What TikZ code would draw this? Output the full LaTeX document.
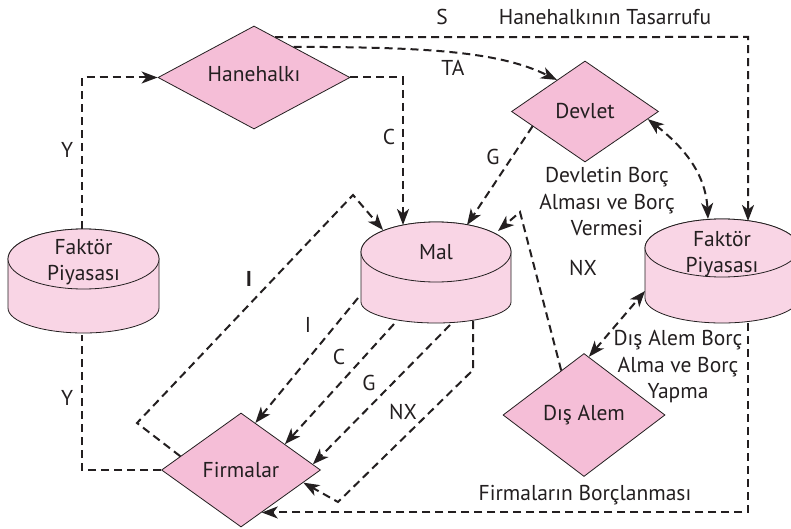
\documentclass[tikz,border=0pt]{standalone}
\usepackage{fontspec}
\setmainfont{PT Sans}
\usetikzlibrary{shapes.geometric,arrows.meta,calc}
\definecolor{dpink}{RGB}{245,190,215}
\definecolor{cpink}{RGB}{249,213,229}
\definecolor{ink}{RGB}{35,31,32}
\begin{document}
\begin{tikzpicture}[x=1pt,y=-1pt,
  font=\fontsize{21.5}{26.5}\selectfont, text=ink,
  dia/.style={diamond,draw=ink,line width=0.8pt,fill=dpink,inner sep=0pt,aspect=1.7},
  cyl/.style={draw=ink,line width=0.8pt,fill=cpink},
  flow/.style={draw=ink,line width=2pt,dash pattern=on 8pt off 5pt,
     -{Stealth[length=16pt,width=12pt,inset=4.5pt]}},
  plain/.style={draw=ink,line width=2pt,dash pattern=on 8pt off 5pt},
  both/.style={flow,{Stealth[length=16pt,width=12pt,inset=4.5pt]}-{Stealth[length=16pt,width=12pt,inset=4.5pt]}},
  lbl/.style={inner sep=0pt,align=center}]
\clip (0,0) rectangle (791,529);
\fill[white] (0,0) rectangle (791,529);

% cylinders
\fill[cyl] (8,259) -- (8,308) arc[start angle=180,end angle=360,x radius=75.5pt,y radius=25pt] -- (159,259) arc[start angle=0,end angle=180,x radius=75.5pt,y radius=30pt] -- cycle;
\draw[cyl] (83.5,259) ellipse[x radius=75.5pt,y radius=30pt];
\node[lbl] (fpL) at (83.5,262) {Faktör\\Piyasası};

\fill[cyl] (361,252) -- (361,302) arc[start angle=180,end angle=360,x radius=75pt,y radius=21pt] -- (511,252) arc[start angle=0,end angle=180,x radius=75pt,y radius=30pt] -- cycle;
\draw[cyl] (436,252) ellipse[x radius=75pt,y radius=30pt];
\node[lbl] (mal) at (436,252) {Mal};

\fill[cyl] (645,248) -- (645,298) arc[start angle=180,end angle=360,x radius=77pt,y radius=25pt] -- (799,248) arc[start angle=0,end angle=180,x radius=77pt,y radius=29pt] -- cycle;
\draw[cyl] (722,248) ellipse[x radius=77pt,y radius=29pt];
\node[lbl] (fpR) at (722,254) {Faktör\\Piyasası};

% diamonds
\node[dia,minimum width=192pt,minimum height=103pt] (hh) at (254,77.5) {};
\node (hht) at (hh.center) [yshift=3pt] {Hanehalkı};
\node[dia,minimum width=147pt,minimum height=101pt] (dv) at (585,111.5) {};
\node (dvt) at (dv.center) {Devlet};
\node[dia,minimum width=159pt,minimum height=114pt] (fm) at (241,470) {};
\node (fmt) at (fm.center) {Firmalar};
\node[dia,minimum width=162pt,minimum height=123pt] (da) at (584,415) {};
\node (dat) at (da.center) {Dış Alem};

% attachment coordinates
\coordinate (fpLtop) at (82,229);
\coordinate (fpLbot) at (82,335);
\coordinate (malC) at (403,225);
\coordinate (malG) at (467,225);
\coordinate (malNXin) at (498,231);
\coordinate (malIin) at (383,230);
\coordinate (malIout) at (358,298);
\coordinate (malCout) at (394,324);
\coordinate (malGout) at (450,325);
\coordinate (malNXout) at (473,321);
\coordinate (fpRS) at (748,221);
\coordinate (fpRdv) at (708,219);
\coordinate (fpRda) at (645,291);
\coordinate (fpRbot) at (748,323);
\coordinate (corS) at (748,37);
\coordinate (nxbend) at (520,212);
\coordinate (ib1) at (137,423);
\coordinate (ib2) at (353,195);
\coordinate (nxb1) at (473,370);
\coordinate (nxb2) at (338,502);

% connectors
\draw[flow] (fpLtop) |- (hh.west);
\draw[plain] (fm.west) -| (fpLbot);
\draw[flow] (hh.east) -| (malC);
\draw[flow] ($(hh.north)!0.22!(hh.east)$) -- (corS) -- (fpRS);
\draw[flow] ($(hh.north)!0.41!(hh.east)$) .. controls (430,47) and (500,52) .. ($(dv.west)!0.62!(dv.north)$);
\draw[flow] ($(dv.west)!0.29!(dv.south)$) -- (malG);
\draw[both] ($(dv.east)!0.15!(dv.south)$) to[out=-38,in=93] (fpRdv);
\draw[both] ($(da.north)!0.06!(da.east)$) -- (fpRda);
\draw[flow] ($(da.west)!0.72!(da.north)$) -- (nxbend) -- (malNXin);
\draw[flow] ($(fm.west)!0.24!(fm.north)$) -- (ib1) -- (ib2) -- (malIin);
\draw[flow] (malIout) -- ($(fm.north)!0.18!(fm.east)$);
\draw[flow] (malCout) -- ($(fm.north)!0.55!(fm.east)$);
\draw[flow] (malGout) -- ($(fm.north)!0.9!(fm.east)$);
\draw[flow] (malNXout) -- (nxb1) -- (nxb2) -- ($(fm.east)!0.22!(fm.south)$);
\coordinate (fmB) at ($(fm.east)!0.74!(fm.south)$);
\draw[flow] (fpRbot) |- (fmB);

% labels
\node[lbl] (lS) at (442,17) {S};
\node[lbl] (lHT) at (605,17) {Hanehalkının Tasarrufu};
\node[lbl] (lTA) at (453,68) {TA};
\node[lbl] (lC1) at (389,137) {C};
\node[lbl] (lG1) at (493,157) {G};
\node[lbl] (lY1) at (67,150) {Y};
\node[lbl] (lY2) at (67,398) {Y};
\node[lbl] (lDB) at (607,202) {Devletin Borç\\Alması ve Borç\\Vermesi};
\node[lbl] (lNX1) at (583,268) {NX};
\node[lbl] (lI1) at (249,279) {\textbf{I}};
\node[lbl] (lI2) at (308,325) {I};
\node[lbl] (lC2) at (339,357) {C};
\node[lbl] (lG2) at (369,383) {G};
\node[lbl] (lNX2) at (403,412) {NX};
\node[lbl] (lDA) at (678,367) {Dış Alem Borç\\Alma ve Borç\\Yapma};
\node[lbl] (lFB) at (585,495) {Firmaların Borçlanması};
\end{tikzpicture}
\end{document}
